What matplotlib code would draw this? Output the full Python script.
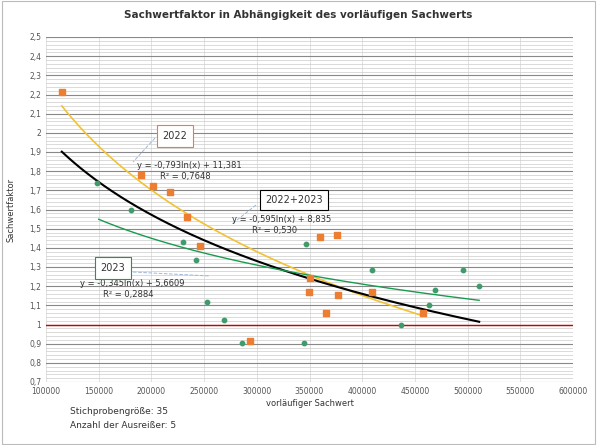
import numpy as np
import matplotlib
matplotlib.use("Agg")
import matplotlib.pyplot as plt
from matplotlib.ticker import MultipleLocator, FuncFormatter

x22 = [115000, 190000, 201500, 217600, 233800, 246100, 293500, 350500, 360000, 376000, 349500, 365700, 377000, 409300, 457700]
y22 = [2.215, 1.78, 1.725, 1.69, 1.56, 1.41, 0.915, 1.245, 1.455, 1.465, 1.17, 1.06, 1.155, 1.17, 1.06]
x23 = [148400, 180600, 230000, 242300, 252700, 268900, 286000, 344800, 346700, 409300, 436800, 469100, 495600, 510800, 463400]
y23 = [1.74, 1.60, 1.43, 1.335, 1.115, 1.025, 0.905, 0.905, 1.42, 1.285, 0.995, 1.18, 1.285, 1.20, 1.10]

W, H = 597, 445
fig = plt.figure(figsize=(W/100, H/100), dpi=100)
ax = fig.add_axes([46/W, 1-382/H, (573-46)/W, (382-37)/H])
ax.set_xlim(100000, 600000)
ax.set_ylim(0.7, 2.5)
ax.yaxis.set_major_locator(MultipleLocator(0.1))
ax.yaxis.set_minor_locator(MultipleLocator(0.02))
ax.xaxis.set_major_locator(MultipleLocator(50000))
ax.grid(which='major', axis='y', color='#888888', lw=0.8)
ax.grid(which='minor', axis='y', color='#cccccc', lw=0.5)
ax.grid(which='major', axis='x', color='#dddddd', lw=0.6)
for s in ax.spines.values():
    s.set_visible(False)
ax.tick_params(which='both', length=0, labelsize=5.5, colors='#555555')
ax.yaxis.set_major_formatter(FuncFormatter(lambda v, p: (f"{v:.1f}".rstrip('0').rstrip('.')).replace('.', ',')))
ax.set_xlabel("vorläufiger Sachwert", fontsize=6, color='#333333', labelpad=2)
ax.set_ylabel("Sachwertfaktor", fontsize=6, color='#333333', labelpad=10)

ax.axhline(1.0, color='#cc0000', lw=1.0, zorder=2)

xs = np.linspace(115000, 457700, 200)
ax.plot(xs, -0.793*np.log(xs)+11.381, color='#f2c233', lw=1.2, zorder=3)
xs = np.linspace(115000, 511000, 200)
ax.plot(xs, -0.595*np.log(xs)+8.835, color='black', lw=1.5, zorder=3)
xs = np.linspace(150000, 511000, 200)
ax.plot(xs, -0.345*np.log(xs)+5.6609, color='#1a9a50', lw=1.0, zorder=3)

ax.scatter(x22, y22, marker='s', s=14, color='#ed7d31', zorder=4)
ax.scatter(x23, y23, marker='o', s=10, color='#3f9b6b', zorder=4)

def ft(px, py, s, **kw):
    fig.text(px/W, 1-py/H, s, **kw)

ft(298, 15, "Sachwertfaktor in Abhängigkeit des vorläufigen Sachwerts", ha='center', va='center', fontsize=7.5, fontweight='bold', color='#333333')
ft(137, 166, "y = -0,793ln(x) + 11,381", fontsize=6, va='center', color='#333333')
ft(160, 177, "R² = 0,7648", fontsize=6, va='center', color='#333333')
ft(232, 220, "y = -0,595ln(x) + 8,835", fontsize=6, va='center', color='#333333')
ft(252, 230, "R² = 0,530", fontsize=6, va='center', color='#333333')
ft(80, 284, "y = -0,345ln(x) + 5,6609", fontsize=6, va='center', color='#333333')
ft(103, 294, "R² = 0,2884", fontsize=6, va='center', color='#333333')
ft(175, 136, "2022", fontsize=7, ha='center', va='center', color='#333333',
   bbox=dict(boxstyle='square,pad=0.6', fc='white', ec='#ed7d31', lw=0.8))
ft(294, 200, "2022+2023", fontsize=7, ha='center', va='center', color='#333333',
   bbox=dict(boxstyle='square,pad=0.5', fc='white', ec='black', lw=0.8))
ft(113, 268, "2023", fontsize=7, ha='center', va='center', color='#333333',
   bbox=dict(boxstyle='square,pad=0.6', fc='white', ec='#1a9a50', lw=0.8))
for (a, b, c, d) in [(155, 138, 133, 162), (256, 205, 232, 224), (133, 272, 210, 276)]:
    fig.add_artist(plt.Line2D([a/W, c/W], [1-b/H, 1-d/H], color='#9bb7d9', lw=0.7, ls='--'))
ft(70, 412, "Stichprobengröße: 35", fontsize=6.5, va='center', color='#333333')
ft(70, 425, "Anzahl der Ausreißer: 5", fontsize=6.5, va='center', color='#333333')
fig.add_artist(plt.Rectangle((0.003, 0.003), 0.994, 0.994, fill=False, ec='#bbbbbb', lw=0.8, transform=fig.transFigure))
fig.savefig("out.png", dpi=100)
